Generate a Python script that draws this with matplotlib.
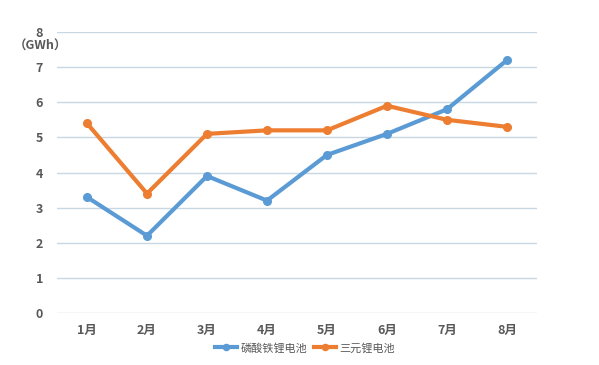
import matplotlib.pyplot as plt

plt.rcParams['font.family'] = ['Noto Sans CJK SC', 'DejaVu Sans']

months = ["1月", "2月", "3月", "4月", "5月", "6月", "7月", "8月"]
lfp = [3.3, 2.2, 3.9, 3.2, 4.5, 5.1, 5.8, 7.2]
ternary = [5.4, 3.4, 5.1, 5.2, 5.2, 5.9, 5.5, 5.3]
yticks = [0, 1, 2, 3, 4, 5, 6, 7, 8]

fig = plt.figure(figsize=(5.99, 3.65), dpi=100)
ax = fig.add_axes([57/599, 52/365, 480/599, 281/365])

x = range(len(months))
ax.plot(x, lfp, color='#5b9bd5', lw=3, marker='o', ms=5.5, label='磷酸铁锂电池', zorder=3)
ax.plot(x, ternary, color='#ed7d31', lw=3, marker='o', ms=5.5, label='三元锂电池', zorder=3)

ax.set_xlim(-0.5, 7.5)
ax.set_ylim(0, 8)
ax.set_yticks(yticks)
ax.set_xticks(list(x))
ax.set_xticklabels(months)
ax.grid(axis='y', color='#c9d7e2', lw=1)
for s in ax.spines.values():
    s.set_visible(False)
ax.tick_params(length=0, labelsize=9, labelcolor='#595959', pad=8)
ax.tick_params(axis='y', pad=10)
for t in ax.get_xticklabels() + ax.get_yticklabels():
    t.set_fontweight('bold')

fig.text(40/599, 1 - 46/365, '（GWh）', ha='center', va='center', fontsize=9,
         color='#595959', fontweight='bold')

fig.legend(loc='center', bbox_to_anchor=(305/599, 1 - 348/365), ncol=2, frameon=False,
           fontsize=8, labelcolor='#595959', handlelength=2, columnspacing=0.6,
           handletextpad=0.3, markerscale=0.8)

plt.savefig('out.png')
